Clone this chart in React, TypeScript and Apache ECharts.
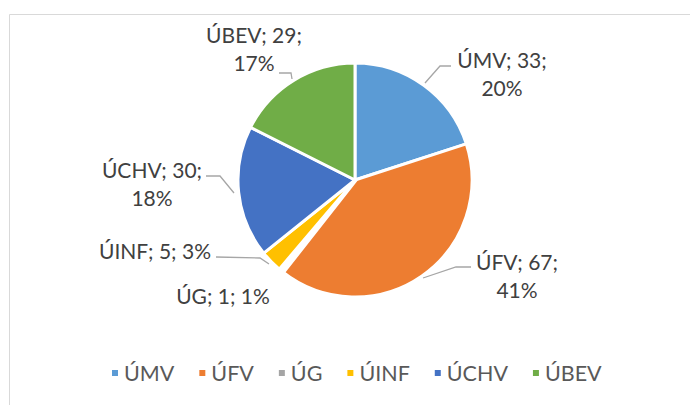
import React, { useEffect, useRef } from "react";
import * as echarts from "echarts";

const categories = ["ÚMV", "ÚFV", "ÚG", "ÚINF", "ÚCHV", "ÚBEV"];
const values = [33, 67, 1, 5, 30, 29];
const colors = ["#5B9BD5", "#ED7D31", "#A5A5A5", "#FFC000", "#4472C4", "#70AD47"];
const singleLineLabels = ["ÚG", "ÚINF"];
const noLineLabels = ["ÚG"];
const thinSlices = ["ÚG"];

// label placement (pixel positions of label centres and leader lines)
const labelPos: Record<string, { x: number; y: number; line?: number[][] }> = {
  "ÚMV": { x: 502, y: 73, line: [[425, 83], [440, 66], [451, 66]] },
  "ÚFV": { x: 517, y: 275, line: [[423, 278], [456, 267], [471, 267]] },
  "ÚG": { x: 223, y: 295 },
  "ÚINF": { x: 155, y: 250, line: [[269, 264], [260, 258], [216, 257]] },
  "ÚCHV": { x: 152, y: 183, line: [[234, 193], [220, 176], [206, 176]] },
  "ÚBEV": { x: 254, y: 48, line: [[292, 79], [291, 73], [279, 73]] },
};

const FONT = "Lato, 'Open Sans', sans-serif";

export default function App() {
  const ref = useRef<HTMLDivElement>(null);
  useEffect(() => {
    if (!ref.current) return;
    const chart = echarts.init(ref.current, undefined, { renderer: "svg" });
    chart.setOption({
      animation: false,
      backgroundColor: "#ffffff",
      color: colors,
      graphic: [
        {
          type: "rect",
          shape: { x: 9.5, y: 14.5, width: 700, height: 420 },
          style: { fill: "none", stroke: "#d9d9d9", lineWidth: 1 },
          silent: true,
        },
      ],
      legend: {
        bottom: 16,
        left: 105,
        itemWidth: 8,
        itemHeight: 8,
        itemGap: 23,
        icon: "rect",
        textStyle: { color: "#595959", fontSize: 21.5, fontFamily: FONT },
        data: categories,
      },
      series: [
        {
          type: "pie",
          center: [355, 180],
          radius: 117,
          startAngle: 90,
          clockwise: true,
          percentPrecision: 0,
          itemStyle: { borderColor: "#ffffff", borderWidth: 3 },
          label: {
            show: true,
            position: "outside",
            color: "#404040",
            fontSize: 21,
            fontFamily: FONT,
            lineHeight: 28,
            align: "center",
            formatter: (p: any) =>
              singleLineLabels.includes(p.name)
                ? `${p.name}; ${p.value}; ${p.percent}%`
                : `${p.name}; ${p.value};\n${p.percent}%`,
          },
          labelLine: { show: true, lineStyle: { color: "#a6a6a6", width: 1.3 } },
          labelLayout: (params: any) => {
            const name = categories[params.dataIndex];
            const pos = labelPos[name];
            const out: any = { x: pos.x, y: pos.y, align: "center", verticalAlign: "middle" };
            if (pos.line) out.labelLinePoints = pos.line;
            return out;
          },
          data: categories.map((name, i) => ({
            name,
            value: values[i],
            labelLine: { show: !noLineLabels.includes(name) },
            ...(thinSlices.includes(name)
              ? { itemStyle: { borderWidth: 5 } }
              : {}),
          })),
        },
      ],
    });
    return () => chart.dispose();
  }, []);
  return (
    <div
      ref={ref}
      style={{ position: "fixed", left: 0, top: 0, width: 690, height: 405 }}
    />
  );
}
